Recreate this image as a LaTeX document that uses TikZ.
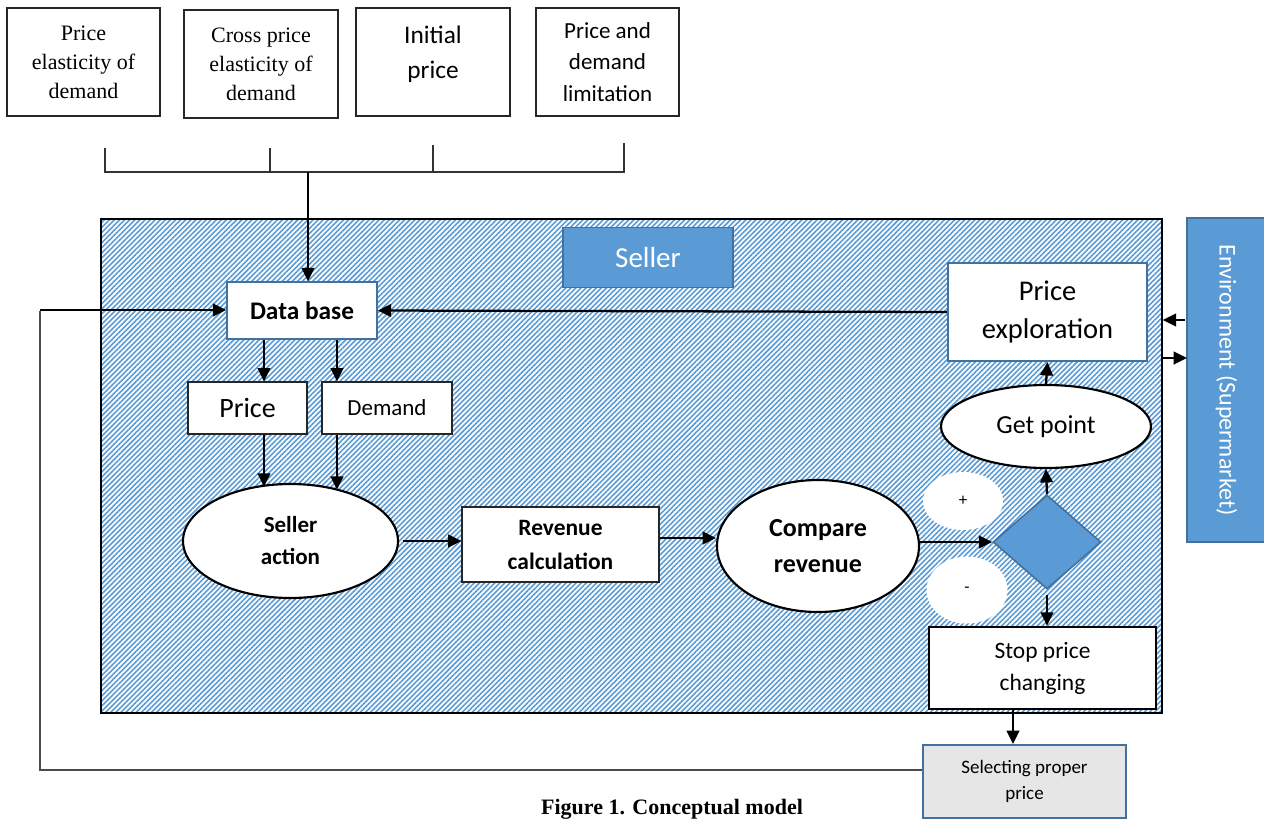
\documentclass[tikz,border=0pt]{standalone}
\usepackage{fontspec}
\setmainfont{Carlito}
\newfontfamily\timesf{Liberation Serif}
\usetikzlibrary{arrows.meta,shapes.geometric,patterns.meta}
\definecolor{mblue}{RGB}{91,155,213}
\definecolor{dblue}{RGB}{65,113,156}
\definecolor{lgray}{RGB}{231,230,230}
\newcommand{\fsz}[2]{\fontsize{#1}{#2}\selectfont}
\begin{document}
\begin{tikzpicture}[x=0.75pt,y=-0.75pt,
  every node/.style={inner sep=0pt, align=center},
  arr/.style={line width=1.7pt, -{Triangle[length=10pt,width=9.5pt]}},
  thinln/.style={line width=0.8pt, black!80},
  topbox/.style={draw=black!85, line width=0.9pt, minimum height=81pt},
  wbox/.style={draw=black!85, line width=0.9pt, fill=white},
  bbox/.style={draw=dblue, line width=1.3pt, fill=white},
  ell/.style={ellipse, draw=black, line width=1.6pt, fill=white},
  blob/.style={ellipse, fill=white},
  bluebox/.style={draw=dblue, line width=1.2pt, fill=mblue, text=white}
]
\useasboundingbox (0,0) rectangle (1264,818);

% top boxes
\node[topbox, minimum width=114.75pt, font=\timesf\fsz{16.5pt}{21.75pt}] (b1) at (83.5,62) {Price\\elasticity of\\demand};
\node[topbox, minimum width=115.5pt, font=\timesf\fsz{16.5pt}{21.75pt}] (b2) at (261,64) {Cross price\\elasticity of\\demand};
\node[topbox, minimum width=115.5pt, label={[yshift=6pt, font=\fsz{19pt}{26pt}]center:{Initial\\price}}] (b3) at (433,62) {};
\node[topbox, minimum width=107.25pt, font=\fsz{17.25pt}{23.5pt}] (b4) at (607.5,62) {Price and\\demand\\limitation};

% bracket
\draw[thinln] (105,148) -- (105,172) -- (624,172) -- (624,143);
\draw[thinln] (270,148) -- (270,172);
\draw[thinln] (433,145) -- (433,172);

% seller area
\node[draw=black, line width=1.6pt, minimum width=795.75pt, minimum height=370.5pt,
      pattern={Lines[angle=45,distance=2.7pt,line width=1.2pt]}, pattern color=mblue] (seller) at (631.5,466) {};

\node[bluebox, minimum width=127.5pt, minimum height=45pt, font=\fsz{21.75pt}{26pt}] (sl) at (648,257.5) {Seller};
\node[bluebox, rotate=-90, minimum width=243pt, minimum height=59.25pt, font=\fsz{18pt}{22pt}] (env) at (1226.5,380) {Environment (Supermarket)};

\node[bbox, minimum width=112.5pt, minimum height=42.75pt, font=\bfseries\fsz{19pt}{23pt}] (db) at (302,310.5) {Data base};
\node[wbox, minimum width=89.25pt, minimum height=39pt, font=\fsz{21pt}{25pt}] (price) at (247.5,408) {Price};
\node[wbox, minimum width=97.5pt, minimum height=39pt, font=\fsz{17.25pt}{21pt}] (demand) at (387,408) {Demand};
\node[ell, minimum width=161.25pt, minimum height=85.5pt, font=\bfseries\fsz{17.25pt}{24pt}] (sa) at (290.5,541) {Seller\\action};
\node[wbox, minimum width=147.75pt, minimum height=56.25pt, font=\bfseries\fsz{17.6pt}{25.5pt}] (rev) at (560.5,544.5) {Revenue\\calculation};
\node[ell, minimum width=151.5pt, minimum height=99pt, font=\bfseries\fsz{19.5pt}{27pt}] (cmp) at (818,546) {Compare\\revenue};
\node[blob, minimum width=60pt, minimum height=43.5pt, font=\fsz{12.75pt}{15pt}] (plus) at (963,501) {+};
\node[blob, minimum width=60.75pt, minimum height=50.25pt, font=\fsz{12.75pt}{15pt}] (minus) at (967,590) {-};
\node[diamond, draw=dblue, line width=1.2pt, fill=mblue, minimum width=81pt, minimum height=70.5pt] (dia) at (1047,542) {};
\node[ell, minimum width=157.5pt, minimum height=62.25pt, font=\fsz{19.5pt}{24pt}] (gp) at (1046,426.5) {Get point};
\node[bbox, line width=1.6pt, minimum width=149.25pt, minimum height=73.5pt, font=\fsz{21.4pt}{29pt}] (pe) at (1047.5,312) {Price\\exploration};
\node[draw=black, line width=2pt, fill=white, minimum width=170.25pt, minimum height=61.5pt, font=\fsz{17.6pt}{24pt}] (stop) at (1042.5,668) {Stop price\\changing};
\node[draw=dblue, line width=1.6pt, fill=lgray, minimum width=152.25pt, minimum height=54.75pt, font=\fsz{14.25pt}{20pt}] (sel) at (1024.5,781.5) {Selecting proper\\price};

% caption
\node[anchor=base, font=\timesf\bfseries\fsz{16.5pt}{20pt}] (cap) at (672,814) {Figure 1. Conceptual model};

% connectors
\coordinate (bt) at (308,172);
\draw[arr] (bt) -- (bt |- db.north);
\coordinate (xa) at (264,0);
\coordinate (xb) at (337,0);
\draw[arr] (db.south -| xa) -- (price.north -| xa);
\draw[arr] (db.south -| xb) -- (demand.north -| xb);
\draw[arr] (price.south -| xa) -- ++(0,52);
\draw[arr] (demand.south -| xb) -- ++(0,55);
\draw[arr] ([xshift=3pt]sa.east) -- (sa.east -| rev.west);
\path ([yshift=4.9pt]rev.east) coordinate (r1);
\draw[arr] (r1) -- (r1 -| cmp.west);
\draw[arr] (cmp.east |- dia.west) -- (dia.west);
\draw[arr] (dia.north) -- (gp.south);
\draw[arr] (gp.north) -- (pe.south);
\draw[arr] ([yshift=-4pt]dia.south) -- (stop.north -| dia.south);
\coordinate (xs) at (1013,0);
\draw[arr] (stop.south -| xs) -- (sel.north -| xs);
\draw[arr] (pe.west) -- (db.east);
\coordinate (e1) at (1185,320);
\coordinate (e2) at (1187,358);
\draw[arr] (e1) -- (e1 -| seller.east);
\draw[arr] (e2 -| seller.east) -- (e2);
\coordinate (fb) at (40,770);
\draw[line width=0.9pt, black!70] (sel.west |- fb) -- (fb) -- (40,311);
\coordinate (fl) at (40,310);
\draw[arr] (fl) -- (fl -| db.west);
\end{tikzpicture}
\end{document}
